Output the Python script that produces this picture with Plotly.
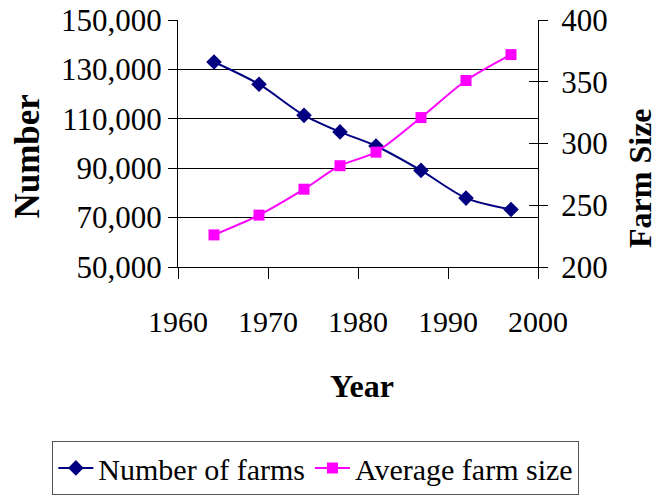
import plotly.graph_objects as go

years = [1964, 1969, 1974, 1978, 1982, 1987, 1992, 1997]
number_of_farms = [133000, 124000, 111400, 104700, 99000, 89100, 77900, 73300]
average_farm_size = [226, 242, 263, 282, 293, 321, 351, 372]

x_ticks = [1960, 1970, 1980, 1990, 2000]
y_ticks = [50000, 70000, 90000, 110000, 130000, 150000]
y_ticktext = ["50,000", "70,000", "90,000", "110,000", "130,000", "150,000"]
y_grid = [70000, 90000, 110000, 130000]
y2_ticks = [200, 250, 300, 350, 400]

FONT = "Liberation Serif"
NAVY = "#000080"
MAGENTA = "#FF00FF"

fig = go.Figure()
fig.add_trace(go.Scatter(
    x=years, y=number_of_farms, name="Number of farms",
    mode="lines+markers", line=dict(color=NAVY, width=2, shape="spline", smoothing=0.8),
    marker=dict(symbol="diamond", size=12, color=NAVY), yaxis="y"))
fig.add_trace(go.Scatter(
    x=years, y=average_farm_size, name="Average farm size",
    mode="lines+markers", line=dict(color=MAGENTA, width=2, shape="spline", smoothing=0.8),
    marker=dict(symbol="square", size=11, color=MAGENTA), yaxis="y2"))
# helper traces so the overlay axes (grid and inner ticks) are drawn
fig.add_trace(go.Scatter(x=[None], y=[None], yaxis="y3", showlegend=False, hoverinfo="skip"))
fig.add_trace(go.Scatter(x=[None], y=[None], yaxis="y4", showlegend=False, hoverinfo="skip"))

tickfont = dict(family=FONT, size=31, color="black")

fig.update_layout(
    width=662, height=498,
    margin=dict(l=178, r=124, t=20, b=231, autoexpand=False),
    paper_bgcolor="white", plot_bgcolor="white",
    font=dict(family=FONT, color="black"),
    xaxis=dict(range=[1960, 2000], tickvals=x_ticks, ticks="outside", ticklen=11,
               tickcolor="black", showline=True, linecolor="black", linewidth=1,
               showgrid=False, zeroline=False, tickfont=dict(family=FONT, size=30, color="black"),
               ticklabelstandoff=17, ticklabeloverflow="allow"),
    yaxis=dict(range=[50000, 150000], tickvals=y_ticks, ticktext=y_ticktext,
               ticks="outside", ticklen=9, tickcolor="black", showline=True,
               linecolor="black", linewidth=1, showgrid=False, zeroline=False,
               tickfont=tickfont, ticklabelstandoff=0, ticklabeloverflow="allow"),
    yaxis2=dict(range=[200, 400], tickvals=y2_ticks, overlaying="y", side="right",
                ticks="outside", ticklen=9, tickcolor="black", showline=True,
                linecolor="black", linewidth=1, showgrid=False, zeroline=False,
                tickfont=tickfont, ticklabelstandoff=7, ticklabeloverflow="allow"),
    yaxis3=dict(range=[50000, 150000], tickvals=y_grid, overlaying="y", side="left",
                showgrid=True, gridcolor="black", gridwidth=1, showticklabels=False,
                ticks="", showline=False, zeroline=False),
    yaxis4=dict(range=[200, 400], tickvals=y2_ticks, overlaying="y", side="right",
                ticks="inside", ticklen=9, tickcolor="black", showticklabels=False,
                showgrid=False, showline=False, zeroline=False),
    showlegend=True,
    legend=dict(orientation="h", x=-0.349, y=-0.704, xanchor="left", yanchor="top",
                bordercolor="#555555", borderwidth=1, bgcolor="white",
                font=dict(family=FONT, size=30, color="black"), itemwidth=35,
                traceorder="normal"),
    annotations=[
        dict(text="<b>Number</b>", xref="paper", yref="paper", x=-0.4167, y=0.447,
             xanchor="center", yanchor="middle", textangle=-90, showarrow=False,
             font=dict(family=FONT, size=35, color="black")),
        dict(text="<b>Farm Size</b>", xref="paper", yref="paper", x=1.283, y=0.36,
             xanchor="center", yanchor="middle", textangle=-90, showarrow=False,
             font=dict(family=FONT, size=32, color="black")),
        dict(text="<b>Year</b>", xref="paper", yref="paper", x=0.511, y=-0.482,
             xanchor="center", yanchor="middle", showarrow=False,
             font=dict(family=FONT, size=32, color="black")),
    ],
)

fig.write_html("out.html", config={"displayModeBar": False},
               post_script="document.body.style.margin='0';")
